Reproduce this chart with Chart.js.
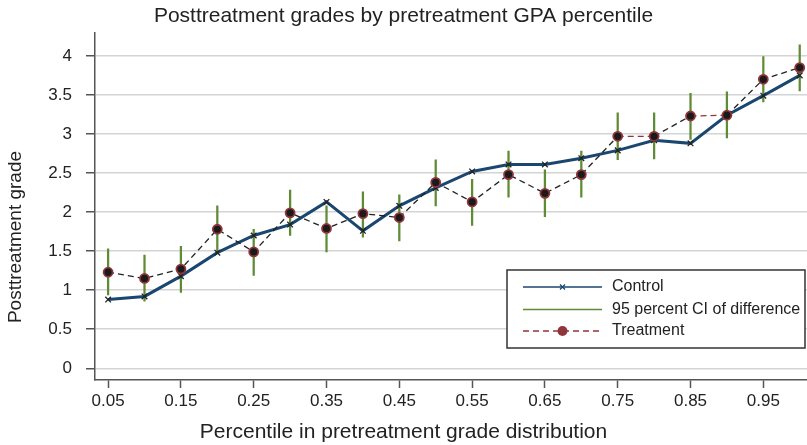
<!DOCTYPE html>
<html>
<head>
<meta charset="utf-8">
<script src="https://cdn.jsdelivr.net/npm/chart.js@4.4.1/dist/chart.umd.min.js"></script>
<style>
  html, body { margin: 0; padding: 0; background: #fff; overflow: hidden; }
  canvas { display: block; }
</style>
</head>
<body>
<canvas id="gradeChart" width="807" height="445"></canvas>
<script>
// ==========================
// Data
// ==========================

const percentiles = [0.05, 0.10, 0.15, 0.20, 0.25, 0.30, 0.35, 0.40, 0.45, 0.50,
                     0.55, 0.60, 0.65, 0.70, 0.75, 0.80, 0.85, 0.90, 0.95, 1.00];

const controlGrades = [0.88, 0.92, 1.18, 1.48, 1.70, 1.84, 2.13, 1.76, 2.08, 2.31,
                       2.52, 2.61, 2.61, 2.69, 2.79, 2.92, 2.88, 3.24, 3.49, 3.75];

const treatmentGrades = [1.23, 1.15, 1.27, 1.78, 1.49, 1.99, 1.79, 1.98, 1.93, 2.38,
                         2.13, 2.48, 2.24, 2.48, 2.97, 2.97, 3.23, 3.24, 3.70, 3.85];

const ciLow  = [0.94, 0.86, 0.97, 1.48, 1.19, 1.70, 1.49, 1.68, 1.63, 2.08,
                1.83, 2.19, 1.94, 2.19, 2.67, 2.68, 2.93, 2.95, 3.41, 3.55];
const ciHigh = [1.53, 1.45, 1.56, 2.08, 1.78, 2.28, 2.08, 2.26, 2.22, 2.67,
                2.42, 2.78, 2.54, 2.78, 3.27, 3.27, 3.52, 3.54, 3.99, 4.14];

const xTicks = [0.05, 0.15, 0.25, 0.35, 0.45, 0.55, 0.65, 0.75, 0.85, 0.95];
const yTicks = [0, 0.5, 1, 1.5, 2, 2.5, 3, 3.5, 4];

const legendLabels = ["Control", "95 percent CI of difference", "Treatment"];
const xTitle = "Percentile in pretreatment grade distribution";
const yTitle = "Posttreatment grade";

// ==========================
// Colours
// ==========================

const NAVY = "#1a476f";
const MAROON = "#90353b";
const GREEN = "#5f8b35";
const AXIS = "#555555";
const FONT = "'Liberation Sans', Arial, sans-serif";

// ==========================
// Axis titles + legend box
// ==========================

const extras = {
    id: "extras",
    afterDraw(chart) {
        const c = chart.ctx;
        const area = chart.chartArea;

        c.save();
        c.fillStyle = "#222";
        c.textAlign = "center";
        c.textBaseline = "middle";

        // axis titles
        c.font = "21px " + FONT;
        c.fillText(xTitle, chart.width / 2, 432);
        c.save();
        c.translate(16, 237);
        c.rotate(-Math.PI / 2);
        c.font = "19px " + FONT;
        c.fillText(yTitle, 0, 0);
        c.restore();

        // legend box
        const left = area.right - 300, top = 270, right = area.right - 2, bottom = 348;
        c.fillStyle = "#fff";
        c.fillRect(left, top, right - left, bottom - top);
        c.strokeStyle = "#333";
        c.lineWidth = 1.5;
        c.strokeRect(left, top, right - left, bottom - top);

        const x0 = left + 16, x1 = left + 95, xm = (x0 + x1) / 2;
        const rows = [top + 17, top + 39.5, top + 61];

        c.strokeStyle = NAVY;
        c.lineWidth = 1.5;
        c.beginPath(); c.moveTo(x0, rows[0]); c.lineTo(x1, rows[0]); c.stroke();
        c.lineWidth = 1.3;
        c.beginPath();
        c.moveTo(xm - 2.5, rows[0] - 2.5); c.lineTo(xm + 2.5, rows[0] + 2.5);
        c.moveTo(xm - 2.5, rows[0] + 2.5); c.lineTo(xm + 2.5, rows[0] - 2.5);
        c.stroke();

        c.strokeStyle = GREEN;
        c.lineWidth = 1.5;
        c.beginPath(); c.moveTo(x0, rows[1]); c.lineTo(x1, rows[1]); c.stroke();

        c.strokeStyle = MAROON;
        c.setLineDash([6, 4]);
        c.beginPath(); c.moveTo(x0, rows[2]); c.lineTo(x1, rows[2]); c.stroke();
        c.setLineDash([]);
        c.fillStyle = MAROON;
        c.beginPath(); c.arc(xm, rows[2], 5, 0, Math.PI * 2); c.fill();

        c.fillStyle = "#222";
        c.font = "16px " + FONT;
        c.textAlign = "left";
        legendLabels.forEach((t, i) => c.fillText(t, left + 105, rows[i]));
        c.restore();
    }
};

// ==========================
// Chart
// ==========================

const ctx = document.getElementById("gradeChart");

const gradeChart = new Chart(ctx, {

    type: "line",

    data: {
        datasets: [
            {
                label: "Treatment",
                data: percentiles.map((p, i) => ({ x: p, y: treatmentGrades[i] })),
                borderColor: "#222",
                borderWidth: 1.3,
                borderDash: [6, 4],
                segment: {
                    borderColor: s => Math.abs(s.p0.parsed.y - s.p1.parsed.y) < 0.02 ? MAROON : "#222"
                },
                pointRadius: 4.5,
                pointBackgroundColor: "#1a1a1a",
                pointBorderColor: MAROON,
                pointBorderWidth: 1.8,
                tension: 0,
                clip: false,
                order: 1
            },
            {
                label: "Control",
                data: percentiles.map((p, i) => ({ x: p, y: controlGrades[i] })),
                borderColor: NAVY,
                borderWidth: 3,
                pointStyle: "crossRot",
                pointRadius: 4,
                pointBorderColor: "#222",
                pointBorderWidth: 1.3,
                tension: 0,
                order: 2
            },
            {
                type: "bar",
                label: "95 percent CI of difference",
                data: percentiles.map((p, i) => ({ x: p, y: [ciLow[i], ciHigh[i]] })),
                backgroundColor: GREEN,
                barThickness: 1.6,
                order: 3
            }
        ]
    },

    options: {
        responsive: false,
        animation: false,
        layout: { padding: 0, autoPadding: false },
        plugins: {
            legend: { display: false },
            tooltip: { enabled: false },
            title: {
                display: true,
                text: "Posttreatment grades by pretreatment GPA percentile",
                color: "#222",
                font: { family: FONT, size: 21, weight: "normal" },
                padding: { top: 4, bottom: 4 }
            }
        },
        scales: {
            x: {
                type: "linear",
                min: 0.032,
                max: 1.01,
                offset: false,
                afterBuildTicks: s => { s.ticks = xTicks.map(v => ({ value: v })); },
                afterFit: s => { s.height = 65; s.paddingLeft = 0; s.paddingRight = 0; },
                ticks: {
                    color: "#222",
                    font: { family: FONT, size: 17 },
                    padding: 3,
                    maxRotation: 0,
                    callback: v => v.toFixed(2)
                },
                grid: {
                    offset: false,
                    drawOnChartArea: false,
                    drawTicks: true,
                    tickLength: 8,
                    tickColor: AXIS,
                    tickWidth: 1.5
                },
                border: { color: AXIS, width: 1.5 }
            },
            y: {
                min: -0.15,
                max: 4.29,
                afterBuildTicks: s => { s.ticks = yTicks.map(v => ({ value: v })); },
                afterFit: s => { s.width = 95; },
                ticks: {
                    color: "#222",
                    font: { family: FONT, size: 17 },
                    padding: 14,
                    callback: v => String(v)
                },
                grid: {
                    color: "#d4d4d4",
                    lineWidth: 1.5,
                    drawTicks: true,
                    tickLength: 9,
                    tickColor: AXIS,
                    tickWidth: 1.5
                },
                border: { color: AXIS, width: 1.5 }
            }
        }
    },

    plugins: [extras]
});
</script>
</body>
</html>
